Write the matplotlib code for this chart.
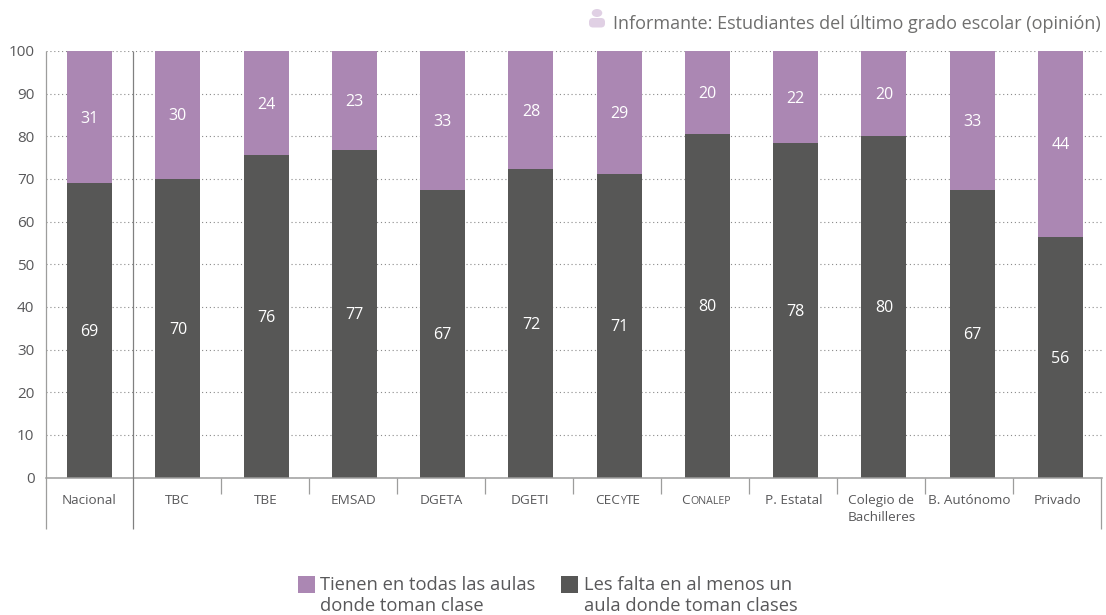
import matplotlib
matplotlib.use("Agg")
import matplotlib.pyplot as plt
import matplotlib.patches as mpatches
import numpy as np

plt.rcParams["font.family"] = ["Open Sans", "DejaVu Sans"]

# Data
categorias = ["Nacional", "TBC", "TBE", "EMSAD", "DGETA", "DGETI", "CECyTE", "Conalep",
              "P. Estatal", "Colegio de\nBachilleres", "B. Autónomo", "Privado"]
les_falta = [69, 70, 75.6, 76.8, 67.4, 72.3, 71.2, 80.5, 78.4, 80.1, 67.4, 56.4]
tienen = [31, 30, 24.4, 23.2, 32.6, 27.7, 28.8, 19.5, 21.6, 19.9, 32.6, 43.6]
yticks = list(range(0, 101, 10))
leyenda_tienen = "Tienen en todas las aulas\ndonde toman clase"
leyenda_falta = "Les falta en al menos un\naula donde toman clases"
informante = "Informante: Estudiantes del último grado escolar (opinión)"

MORADO = "#ab87b3"
OSCURO = "#575756"
TEXTO = "#58585a"
LINEA = "#9d9d9c"
W, H = 1106, 615

fig = plt.figure(figsize=(W / 100, H / 100), dpi=100)
ax = fig.add_axes([45.5 / W, 1 - 477.5 / H, (1102 - 45.5) / W, (477.5 - 51) / H])

x = np.arange(len(categorias))
ax.bar(x, les_falta, width=0.51, color=OSCURO, zorder=2)
ax.bar(x, tienen, width=0.51, bottom=les_falta, color=MORADO, zorder=2)
ax.set_xlim(-0.5, 11.47)
ax.set_ylim(0, 100)

# value labels, a little under the middle of each segment
for i in x:
    ax.text(i, les_falta[i] / 2 - 0.35, f"{les_falta[i]:.0f}", color="white", fontsize=11.5,
            ha="center", va="center", zorder=3)
    ax.text(i, les_falta[i] + tienen[i] / 2 - 0.35, f"{tienen[i]:.0f}", color="white", fontsize=11.5,
            ha="center", va="center", zorder=3)

ax.set_yticks(yticks)
ax.tick_params(axis="y", length=0, labelsize=11, labelcolor=TEXTO, pad=8)
ax.set_xticks([])
ax.grid(axis="y", linestyle=(0, (1, 2.5)), color="#8a8a8a", linewidth=0.8, zorder=1)
ax.set_axisbelow(True)
for lado in ["top", "right", "left"]:
    ax.spines[lado].set_visible(False)
ax.spines["bottom"].set_color(LINEA)
ax.spines["bottom"].set_linewidth(1.1)

# category separators, the cells are a bit narrower than the bar spacing
paso = 88.0 / 88.27
bordes = -0.5 + paso * np.arange(len(categorias) + 1)
largo = [0, 1, 12]
for k, b in enumerate(bordes):
    fondo = -12 if k in largo else -3.9
    tope = 100 if k in [0, 1] else 0
    ax.plot([b, b], [fondo, tope], color=LINEA if k != 1 else "#808080", lw=0.9,
            clip_on=False, zorder=4, solid_capstyle="butt")


def runs_centrados(xc, yc, partes):
    # small caps pieces, centred together on xc
    textos = [ax.text(0, yc, t, fontsize=s, color=TEXTO, ha="left", va="baseline",
                      clip_on=False) for t, s in partes]
    fig.canvas.draw()
    r = fig.canvas.get_renderer()
    anchos = [t.get_window_extent(r).width for t in textos]
    px0 = ax.transData.transform((xc, 0))[0] - sum(anchos) / 2
    for t, a in zip(textos, anchos):
        t.set_x(ax.transData.inverted().transform((px0, 0))[0])
        px0 += a + 0.6


centros = (bordes[:-1] + bordes[1:]) / 2
for c, nombre in zip(centros, categorias):
    if nombre == "Conalep":
        runs_centrados(c, -6.3, [("C", 9.7), ("ONALEP", 7.7)])
    elif nombre == "CECyTE":
        runs_centrados(c, -6.3, [("CEC", 9.7), ("Y", 7.2), ("TE", 9.7)])
    else:
        ax.text(c, -3.9, nombre, fontsize=9.7, color=TEXTO, ha="center", va="top",
                linespacing=1.38, clip_on=False)

# overlay in pixels for the icon and the legend
capa = fig.add_axes([0, 0, 1, 1], facecolor="none")
capa.set_xlim(0, W)
capa.set_ylim(H, 0)
capa.axis("off")

capa.text(1101, 29, informante, fontsize=13, color="#6f6f6e", ha="right", va="baseline")
ICONO = "#e0d0e4"
capa.add_patch(mpatches.Ellipse((597, 13), 10.5, 8, color=ICONO, lw=0))
capa.add_patch(mpatches.FancyBboxPatch((589, 18), 16, 9.5, boxstyle="round,pad=0,rounding_size=4",
                                       color=ICONO, lw=0))

# legend
for x0, color, etiqueta in [(297.5, MORADO, leyenda_tienen), (561, OSCURO, leyenda_falta)]:
    capa.add_patch(mpatches.Rectangle((x0, 576), 17, 17, color=color, lw=0))
    capa.text(x0 + 22.5, 576, etiqueta, fontsize=13.2, color=TEXTO, ha="left",
              va="top", linespacing=1.2)

fig.savefig("out.png", dpi=100)
